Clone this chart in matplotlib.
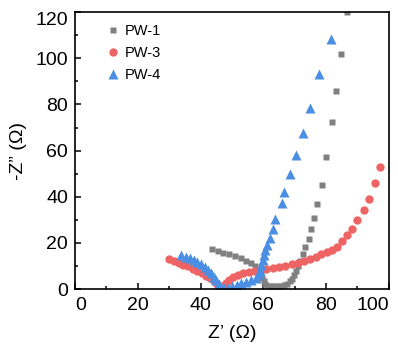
import matplotlib
matplotlib.use("Agg")
import matplotlib.pyplot as plt
from matplotlib.ticker import MultipleLocator

plt.rcParams['font.family'] = ['Liberation Sans', 'DejaVu Sans']

pw1_x = [43.7, 45.5, 47.3, 49.1, 51.0, 52.8, 54.5, 56.0, 57.3, 58.3, 59.1, 59.7, 60.2, 60.7, 61.3,
         62.2, 63.2, 64.3, 65.4, 66.5, 67.5, 68.4, 69.2, 69.9, 70.5, 71.1, 71.8, 72.6, 73.3, 74.5,
         75.1, 76.0, 77.2, 78.6, 80.0, 82.0, 83.2, 84.8, 86.6]
pw1_y = [17.5, 16.6, 15.8, 15.0, 14.2, 13.3, 12.3, 11.2, 10.0, 8.5, 6.8, 5.0, 3.3, 2.2, 1.5,
         1.2, 1.2, 1.3, 1.5, 1.8, 2.4, 3.3, 4.5, 6.0, 7.8, 9.8, 12.3, 15.2, 18.1, 21.7,
         25.9, 30.9, 37.0, 44.9, 57.1, 72.6, 85.8, 102.0, 119.9]

pw3_x = [29.9, 31.5, 33.0, 34.5, 36.0, 37.5, 39.0, 40.4, 41.8, 43.0, 44.2, 45.3, 46.3, 47.2,
         48.0, 49.0, 50.3, 51.8, 53.5, 55.3, 57.2, 59.1, 61.0, 63.0, 65.0, 67.0, 69.0, 71.0,
         73.0, 75.0, 76.8, 78.5, 80.2, 81.8, 83.4, 85.0, 86.6, 88.3, 90.0, 92.0, 93.7, 95.7, 97.1]
pw3_y = [12.9, 12.2, 11.4, 10.6, 9.8, 8.9, 8.0, 6.9, 5.8, 4.6, 3.4, 2.3, 1.3, 0.9,
         2.5, 4.0, 5.2, 6.1, 6.8, 7.4, 7.9, 8.3, 8.7, 9.1, 9.6, 10.1, 10.7, 11.4,
         12.2, 13.1, 14.0, 15.0, 16.0, 16.9, 18.3, 20.7, 23.3, 26.1, 29.9, 34.2, 38.9, 46.1, 53.0]

pw4_x = [33.9, 35.3, 36.6, 37.8, 39.0, 40.2, 41.3, 42.3, 43.3, 44.2, 45.0, 45.8, 46.6, 47.5,
         48.6, 50.0, 51.5, 53.0, 54.6, 56.2, 57.6, 58.5, 59.0, 59.4, 59.8, 60.2, 60.6, 61.2,
         62.0, 63.1, 63.8, 65.9, 66.7, 68.6, 70.5, 72.8, 74.9, 77.8, 81.5]
pw4_y = [14.7, 14.0, 13.3, 12.6, 11.8, 10.8, 9.7, 8.4, 6.9, 5.4, 3.9, 2.4, 1.1, 0.4,
         0.6, 1.2, 1.8, 2.5, 3.2, 4.0, 4.9, 6.5, 8.4, 10.4, 12.5, 14.7, 16.9, 19.1,
         22.1, 26.0, 30.3, 37.1, 42.2, 49.7, 58.1, 67.5, 78.6, 93.4, 108.2]

labels = ["PW-1", "PW-3", "PW-4"]
x_ticks = [0, 20, 40, 60, 80, 100]
y_ticks = [0, 20, 40, 60, 80, 100, 120]

fig = plt.figure(figsize=(3.98, 3.47), dpi=100)
ax = fig.add_axes([0.1884, 0.167, 0.7886, 0.798])

ax.plot(pw1_x, pw1_y, 's', color='#808080', ms=5, mec='none', label=labels[0])
ax.plot(pw3_x, pw3_y, 'o', color='#EE6464', ms=6, mec='none', label=labels[1])
ax.plot(pw4_x, pw4_y, '^', color='#4A8FE3', ms=6.5, mec='none', label=labels[2])

ax.set_xlim(0, 100)
ax.set_ylim(0, 120)
ax.set_xticks(x_ticks)
ax.set_yticks(y_ticks)
ax.xaxis.set_minor_locator(MultipleLocator(10))
ax.yaxis.set_minor_locator(MultipleLocator(10))
ax.tick_params(which='both', direction='in', top=False, right=False, labelsize=14, width=1.1)
ax.tick_params(which='major', length=4)
ax.tick_params(axis='x', which='major', pad=6)
ax.tick_params(axis='y', which='major', pad=5)
ax.tick_params(which='minor', length=2.5)
for s in ax.spines.values():
    s.set_linewidth(1.2)

ax.set_xlabel("Z\u2019 (\u03a9)", fontsize=14, labelpad=8)
ax.set_ylabel("-Z\u201d (\u03a9)", fontsize=14, labelpad=6)

ax.legend(loc='upper left', frameon=False, fontsize=10.5, handletextpad=0.2,
          handlelength=1.2, labelspacing=0.55, bbox_to_anchor=(0.06, 0.995), borderaxespad=0.3)

xt = ax.get_xticklabels()
xt[0].set_horizontalalignment('left')
xt[-1].set_horizontalalignment('right')
yt = ax.get_yticklabels()
yt[-1].set_verticalalignment('top')

fig.savefig("out.png", dpi=100)
